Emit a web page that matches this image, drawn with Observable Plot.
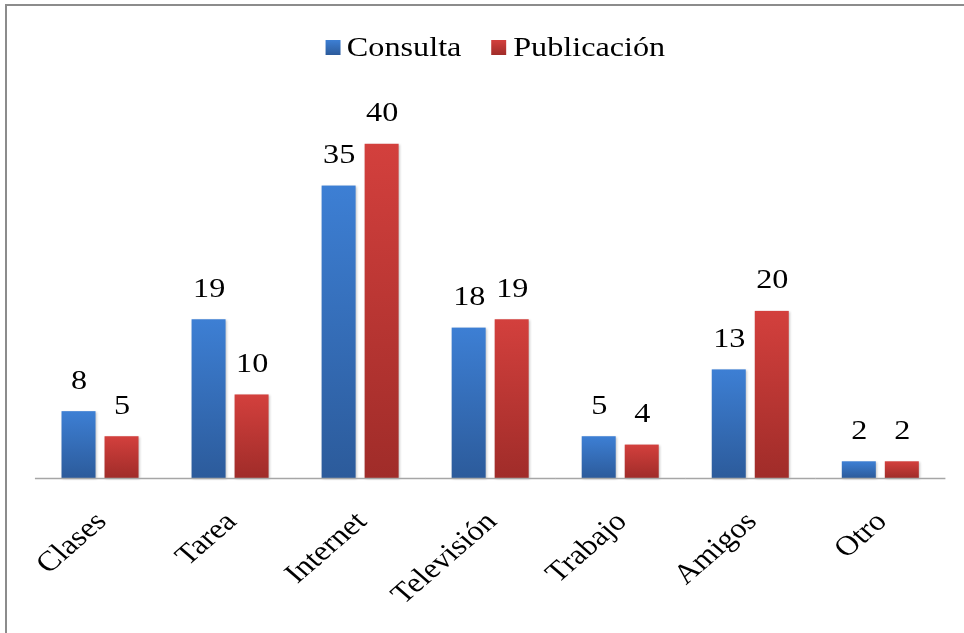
<!DOCTYPE html>
<html>
<head>
<meta charset="utf-8">
<script src="https://cdn.jsdelivr.net/npm/d3@7"></script>
<script src="https://cdn.jsdelivr.net/npm/@observablehq/plot@0.6"></script>
<style>
  html, body { margin: 0; padding: 0; background: #fff; overflow: hidden; width: 964px; height: 633px; }
  #frame { position: absolute; left: 5px; top: 4px; width: 1000px; height: 700px; border: 2px solid #8c8c8c; box-sizing: border-box; }
  #wrap { position: absolute; left: 0; top: 0; width: 838px; height: 633px; transform-origin: 0 0; transform: scaleX(1.1504); }
  #legend { position: absolute; left: 282.5px; top: 33px; display: flex; align-items: center; font-family: "Liberation Serif", "Times New Roman", serif; font-size: 28px; line-height: 28px; color: #000; }
  .item { display: flex; align-items: center; margin-right: 26px; }
  .sw { width: 13px; height: 15px; margin-right: 6px; }
  #chart { position: absolute; left: 0; top: 80px; }
  #chart rect { filter: drop-shadow(1px 1px 1px rgba(0,0,0,0.22)); }
</style>
</head>
<body>
<div id="frame"></div>
<div id="wrap">
  <div id="legend"></div>
  <div id="chart"></div>
</div>
<script>
const categories = ["Clases", "Tarea", "Internet", "Televisión", "Trabajo", "Amigos", "Otro"];
const series = ["Consulta", "Publicación"];
const consulta = [8, 19, 35, 18, 5, 13, 2];
const publicacion = [5, 10, 40, 19, 4, 20, 2];
const seriesColors = {
  "Consulta": ["#3d7fd4", "#2c5b9b"],
  "Publicación": ["#d3403d", "#a02c29"]
};
const gradId = {"Consulta": "gradBlue", "Publicación": "gradRed"};

const data = [];
categories.forEach((c, i) => {
  data.push({category: c, series: "Consulta", value: consulta[i]});
  data.push({category: c, series: "Publicación", value: publicacion[i]});
});

const font = {fontFamily: "'Liberation Serif', 'Times New Roman', serif", fontSize: "28px", background: "transparent", overflow: "visible"};

const plot = Plot.plot({
  width: 838,
  height: 553,
  marginLeft: 30.43,
  marginRight: 16.26,
  marginTop: 22,
  marginBottom: 155,
  style: font,
  fx: {domain: categories, paddingInner: 0.4077, paddingOuter: 0.2038, round: false, label: null},
  x: {domain: series, paddingInner: 0.2093, paddingOuter: 0, round: false, axis: null},
  y: {domain: [0, 45], axis: null},
  marks: [
    Plot.barY(data.filter(d => d.series === "Consulta"), {fx: "category", x: "series", y: "value", fill: "url(#gradBlue)"}),
    Plot.barY(data.filter(d => d.series === "Publicación"), {fx: "category", x: "series", y: "value", fill: "url(#gradRed)"}),
    Plot.ruleY([0], {stroke: "#a6a6a6", strokeWidth: 1.6, insetLeft: -23.1, insetRight: -23.1}),
    Plot.text(data, {fx: "category", x: "series", y: "value", text: d => String(d.value), lineAnchor: "middle", dy: -32, fill: "#000"}),
    Plot.axisFx({anchor: "bottom", tickRotate: -45, tickSize: 0, tickPadding: 38, label: null, fill: "#000"})
  ]
});

// gradients for bars
const svg = d3.select(plot);
const defs = svg.insert("defs", ":first-child");
series.forEach(s => {
  const g = defs.append("linearGradient").attr("id", gradId[s]).attr("x1", 0).attr("y1", 0).attr("x2", 0).attr("y2", 1);
  g.append("stop").attr("offset", "0%").attr("stop-color", seriesColors[s][0]);
  g.append("stop").attr("offset", "100%").attr("stop-color", seriesColors[s][1]);
});

document.getElementById("chart").appendChild(plot);

// legend
const legend = d3.select("#legend");
series.forEach(s => {
  const item = legend.append("div").attr("class", "item");
  item.append("div").attr("class", "sw").style("background", `linear-gradient(${seriesColors[s][0]}, ${seriesColors[s][1]})`);
  item.append("span").text(s);
});
</script>
</body>
</html>
